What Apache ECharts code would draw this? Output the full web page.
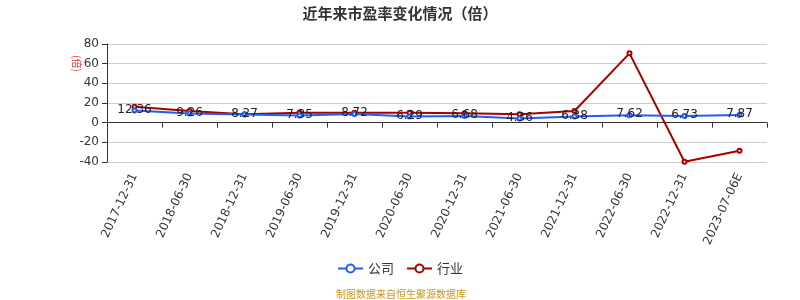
<!DOCTYPE html>
<html><head><meta charset="utf-8">
<script src="https://cdn.jsdelivr.net/npm/echarts@6/dist/echarts.min.js"></script>
<style>html,body{margin:0;padding:0;background:#fff}#c{width:800px;height:300px}</style>
</head><body><div id="c"></div>
<script>
const categories = ['2017-12-31','2018-06-30','2018-12-31','2019-06-30','2019-12-31','2020-06-30','2020-12-31','2021-06-30','2021-12-31','2022-06-30','2022-12-31','2023-07-06E'];
const companyValues = [12.36, 9.26, 8.27, 7.35, 8.72, 6.29, 6.68, 4.36, 6.38, 7.62, 6.73, 7.87];
const industryValues = [16.3, 11.8, 8.5, 10.2, 10.2, 10.2, 9.5, 8.5, 11.8, 70.5, -39.8, -28.6];
const yTicks = {min: -40, max: 80, interval: 20};

const chart = echarts.init(document.getElementById('c'));
chart.setOption({
  animation: false,
  title: {text: '近年来市盈率变化情况（倍）', left: 'center', top: 1,
    textStyle: {fontSize: 15, fontWeight: 'bold', color: '#333', fontFamily: 'Noto Sans CJK SC'}},
  grid: {left: 107, right: 33, top: 44, bottom: 138},
  legend: {top: 257, left: 'center', itemWidth: 25, itemHeight: 10, itemGap: 12,
    textStyle: {fontSize: 13, color: '#333', fontFamily: 'Noto Sans CJK SC'},
    data: ['公司', '行业']},
  graphic: [
    {type: 'text', left: 336, top: 289, style: {text: '制图数据来自恒生聚源数据库', fontSize: 10, fill: '#c8961e', fontFamily: 'Noto Sans CJK SC'}},
    {type: 'text', x: 82, y: 55, rotation: -Math.PI / 2, style: {text: '(倍)', fontSize: 10, fill: '#e03030', fontFamily: 'Noto Sans CJK SC'}}
  ],
  xAxis: {type: 'category', data: categories, boundaryGap: true,
    axisLine: {onZero: true, lineStyle: {color: '#333'}},
    axisTick: {show: true, alignWithLabel: false, lineStyle: {color: '#333'}},
    axisLabel: {rotate: 65, fontSize: 12, color: '#333', interval: 0, margin: 12, fontFamily: 'DejaVu Sans'}},
  yAxis: {type: 'value', min: yTicks.min, max: yTicks.max, interval: yTicks.interval,
    axisLine: {show: true, lineStyle: {color: '#333'}},
    axisTick: {show: true, lineStyle: {color: '#333'}},
    axisLabel: {fontSize: 12, color: '#333', fontFamily: 'DejaVu Sans'},
    splitLine: {lineStyle: {color: '#ccc'}}},
  series: [
    {name: '公司', type: 'line', data: companyValues, symbol: 'emptyCircle', symbolSize: 4,
      itemStyle: {color: '#1f5ef5'}, lineStyle: {width: 2, color: '#1f5ef5'}, z: 3,
      label: {show: true, position: 'inside', offset: [0, -1], color: '#222', fontSize: 12, fontFamily: 'DejaVu Sans'}},
    {name: '行业', type: 'line', data: industryValues, symbol: 'emptyCircle', symbolSize: 4,
      itemStyle: {color: '#a80000'}, lineStyle: {width: 2, color: '#a80000'}, z: 2}
  ]
});
</script></body></html>
